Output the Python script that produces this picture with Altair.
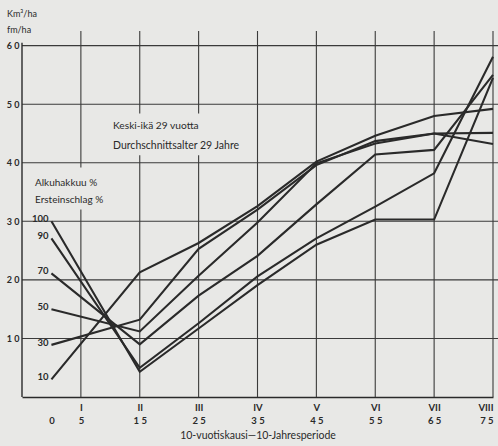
import json
import altair as alt
import pandas as pd

# Ten-year periods (years) and growing stock (m3/ha) after different first-cut intensities
years = [0, 15, 25, 35, 45, 55, 65, 75]
cut_labels = ["100", "90", "70", "50", "30", "10"]
vol_100 = [30.0, 4.3, 11.7, 19.1, 26.0, 30.3, 30.3, 54.5]
vol_90 = [27.1, 5.0, 12.6, 20.6, 27.1, 32.5, 38.2, 58.1]
vol_70 = [21.1, 9.0, 17.3, 24.1, 32.9, 41.4, 42.2, 55.0]
vol_50 = [15.0, 11.2, 20.7, 29.8, 39.9, 43.3, 45.0, 43.2]
vol_30 = [8.9, 13.2, 25.3, 32.0, 39.6, 43.7, 45.0, 45.1]
vol_10 = [3.0, 21.3, 26.3, 32.6, 40.2, 44.6, 48.0, 49.2]

# Axis ticks and grid
x_ticks = [0, 5, 15, 25, 35, 45, 55, 65, 75]
x_tick_text = ["0", "5", "1 5", "2 5", "3 5", "4 5", "5 5", "6 5", "7 5"]
period_text = ["", "I", "II", "III", "IV", "V", "VI", "VII", "VIII"]
y_ticks = [10, 20, 30, 40, 50, 60]
y_tick_text = ["1 0", "2 0", "3 0", "4 0", "5 0", "6 0"]
grid_years = [5, 15, 25, 35, 45, 55, 65, 75]

W, H = 471, 366
BG = "#e8e8e6"
INK = "#2a2a2a"
FONT = "Lato"

rows = []
for lab, vals in zip(cut_labels, [vol_100, vol_90, vol_70, vol_50, vol_30, vol_10]):
    for yr, v in zip(years, vals):
        rows.append({"series": lab, "year": yr, "volume": v})
df = pd.DataFrame(rows)
starts = df[df["year"] == 0]

xs = alt.Scale(domain=[-5, 75], nice=False, zero=False)
ys = alt.Scale(domain=[0, 62.5], nice=False, zero=False)

x_label_expr = (
    f"[{json.dumps(period_text)}[indexof({json.dumps(x_ticks)}, datum.value)], "
    f"{json.dumps(x_tick_text)}[indexof({json.dumps(x_ticks)}, datum.value)]]"
)
y_label_expr = f"{json.dumps(y_tick_text)}[indexof({json.dumps(y_ticks)}, datum.value)]"

x_axis = alt.Axis(
    values=x_ticks, labelExpr=x_label_expr, grid=False, ticks=False,
    domainColor=INK, domainWidth=1.4, labelFont=FONT, labelFontSize=9.5,
    labelFontWeight="bold", labelColor=INK, labelPadding=5, labelLineHeight=13,
    labelAngle=0, title="10-vuotiskausi—10-Jahresperiode", titleFont=FONT,
    titleFontSize=10.5, titleFontWeight="normal", titleColor=INK, titlePadding=6,
)
y_axis = alt.Axis(
    values=y_ticks, labelExpr=y_label_expr, grid=False, ticks=False, domain=False,
    labelFont=FONT, labelFontSize=9, labelFontWeight="bold", labelColor=INK,
    labelPadding=3, title=None,
)

vgrid = alt.Chart(pd.DataFrame({"year": grid_years})).mark_rule(
    color="#3a3a3a", strokeWidth=1.1
).encode(x=alt.X("year:Q", scale=xs, axis=None), y=alt.value(0), y2=alt.value(H))

hgrid = alt.Chart(pd.DataFrame({"volume": y_ticks})).mark_rule(
    color="#3a3a3a", strokeWidth=1.1
).encode(y=alt.Y("volume:Q", scale=ys, axis=None), x=alt.value(0), x2=alt.value(W + 5))

left_axis = alt.Chart(pd.DataFrame({"a": [0]})).mark_rule(color=INK, strokeWidth=1.4).encode(
    x=alt.datum(-5, scale=xs, axis=None), y=alt.datum(0, scale=ys, axis=None), y2=alt.datum(60.5)
)

# Paper-coloured boxes behind the annotation texts
masks = alt.Chart(pd.DataFrame({
    "x0": [9.6, -3.5], "x1": [33.4, 8.5], "y0": [41.3, 32.0], "y1": [48.4, 39.2]
})).mark_rect(color=BG).encode(
    x=alt.X("x0:Q", scale=xs, axis=None), x2="x1:Q",
    y=alt.Y("y0:Q", scale=ys, axis=None), y2="y1:Q",
)

lines = alt.Chart(df).mark_line(color=INK, strokeWidth=2.1).encode(
    x=alt.X("year:Q", scale=xs, axis=x_axis, title="10-vuotiskausi—10-Jahresperiode"),
    y=alt.Y("volume:Q", scale=ys, axis=y_axis),
    detail="series:N",
)

start_labels = alt.Chart(starts).mark_text(
    align="right", baseline="middle", dx=-3, dy=-2, font=FONT, fontSize=9.5,
    fontWeight="bold", color=INK,
).encode(
    x=alt.X("year:Q", scale=xs, axis=None),
    y=alt.Y("volume:Q", scale=ys, axis=None),
    text="series:N",
)

def note(text, px, py, size=10.5):
    return alt.Chart(pd.DataFrame({"t": [text]})).mark_text(
        align="left", baseline="middle", font=FONT, fontSize=size, color=INK
    ).encode(x=alt.value(px), y=alt.value(py), text="t:N")

notes = [
    note("Km³/ha", -15, -17, 9),
    note("fm/ha", -15, -1, 9),
    note("Keski-ikä 29 vuotta", 91, 95, 10.2),
    note("Durchschnittsalter 29 Jahre", 91, 115, 10.5),
    note("Alkuhakkuu %", 13, 152, 10),
    note("Ersteinschlag %", 13, 169, 10),
]

chart = alt.layer(vgrid, hgrid, masks, left_axis, lines, start_labels, *notes).resolve_axis(
    x="independent", y="independent"
).properties(
    width=W, height=H,
    autosize=alt.AutoSizeParams(type="none"),
    padding={"left": 22, "top": 31, "right": 5, "bottom": 49},
    background=BG,
).configure_view(stroke=None)

chart.save("out.html", embed_options={"renderer": "svg", "actions": False})
